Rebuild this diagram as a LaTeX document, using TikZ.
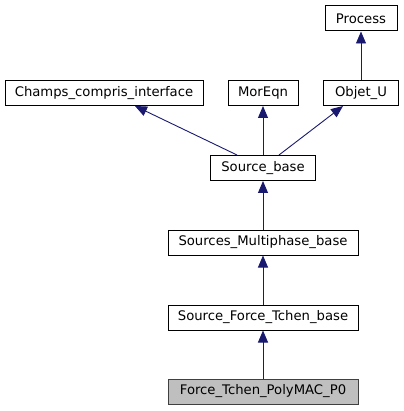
\documentclass[tikz,border=0pt]{standalone}
\usepackage{fontspec}
\setmainfont{DejaVu Sans}
\definecolor{EdgeBlue}{RGB}{25, 25, 112}
\definecolor{NodeGrey}{RGB}{191, 191, 191}
\definecolor{BorderGrey}{RGB}{64, 64, 64}
\usetikzlibrary{arrows.meta, positioning}
\tikzset{
  cls/.style={
    rectangle, draw=black, fill=white, line width=1pt,
    minimum height=25pt, inner sep=2pt, font=\fontsize{13.2}{15}\selectfont
  },
  current/.style={cls, draw=BorderGrey, fill=NodeGrey},
  inherit/.style={line width=0.9pt, color=EdgeBlue, -{Triangle[length=12pt, width=10pt]}},
}

\begin{document}
\begin{tikzpicture}[x=1pt, y=-1pt]
\useasboundingbox (0,0) rectangle (403,411);

\node[cls, minimum width=72pt] (process) at (361,18.5) {Process};
\node[cls, minimum width=198pt] (champs) at (104,93) {Champs\_compris\_interface};
\node[cls, minimum width=70pt] (moreqn) at (263,93) {MorEqn};
\node[cls, minimum width=75pt] (objetu) at (361,93) {Objet\_U};
\node[cls, minimum width=105pt] (srcbase) at (263,168) {Source\_base};
\node[cls, minimum width=190pt] (multi) at (263,242.5) {Sources\_Multiphase\_base};
\node[cls, minimum width=190pt] (tchen) at (263,317.5) {Source\_Force\_Tchen\_base};
\node[current, minimum width=190pt] (poly) at (263,391.5) {Force\_Tchen\_PolyMAC\_P0};

% Inheritance
\draw[inherit] (objetu.north -| process) -- (process);
\draw[inherit] ([xshift=-26pt]srcbase.north) -- ([xshift=31pt]champs.south);
\draw[inherit] (srcbase.north -| moreqn) -- (moreqn);
\draw[inherit] ([xshift=16pt]srcbase.north) -- ([xshift=-18pt]objetu.south);
\draw[inherit] (multi) -- (srcbase);
\draw[inherit] (tchen) -- (multi);
\draw[inherit] (poly) -- (tchen);
\end{tikzpicture}
\end{document}
